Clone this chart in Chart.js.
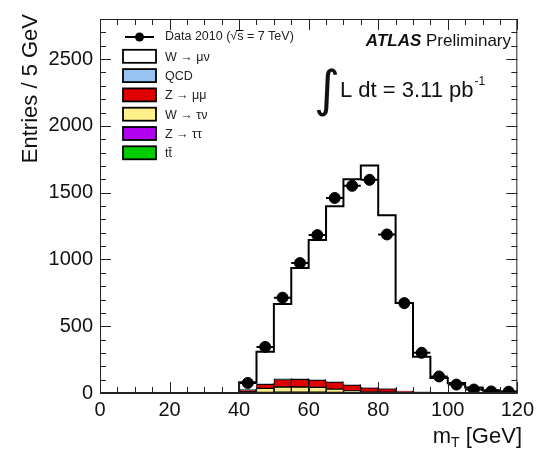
<!DOCTYPE html>
<html>
<head>
<meta charset="utf-8">
<script src="https://cdn.jsdelivr.net/npm/chart.js@4.4.1/dist/chart.umd.min.js"></script>
<style>
  body { margin: 0; background: #fff; }
  #wrap { width: 539px; height: 453px; position: relative; }
</style>
</head>
<body>
<div id="wrap"><canvas id="mtChart"></canvas></div>
<script>
// m_T distribution, W -> mu nu selection, 5 GeV bins (lower edges)
const binLow = [40, 45, 50, 55, 60, 65, 70, 75, 80, 85, 90, 95, 100, 105, 110, 115];
const binWidth = 5;
const dataCounts = [75, 345, 714, 973, 1182, 1460, 1551, 1596, 1187, 673, 301, 124, 63, 26, 12, 10];
const wMuNu   = [52, 237, 560, 828, 1044, 1314, 1537, 1662, 1297, 658, 264, 107, 73, 40, 20, 12];
const qcd     = [4, 6, 6, 5, 4, 4, 3, 2, 2, 1, 1, 1, 0, 0, 0, 0];
const zMuMu   = [15, 30, 55, 58, 55, 52, 45, 30, 25, 12, 5, 3, 2, 1, 1, 0];
const wTauNu  = [8, 30, 38, 38, 36, 24, 12, 6, 3, 1, 1, 0, 0, 0, 0, 0];
const zTauTau = [1, 3, 4, 4, 3, 2, 1, 1, 1, 0, 0, 0, 0, 0, 0, 0];
const ttbar   = [0, 2, 3, 3, 3, 3, 2, 2, 2, 1, 1, 1, 0, 0, 0, 0];
const xTicks = [0, 20, 40, 60, 80, 100, 120];
const yTicks = [0, 500, 1000, 1500, 2000, 2500];

const FONT = "'Liberation Sans', Arial, Helvetica, sans-serif";

// stacked from the bottom up (as in the ROOT THStack)
const stack = [
    { label: "tt\u0304", values: ttbar, color: "#00cc00" },
    { label: "Z \u2192 \u03c4\u03c4", values: zTauTau, color: "#b400f0" },
    { label: "W \u2192 \u03c4\u03bd", values: wTauNu, color: "#fff08c" },
    { label: "Z \u2192 \u03bc\u03bc", values: zMuMu, color: "#e00000" },
    { label: "QCD", values: qcd, color: "#96c3f0" },
    { label: "W \u2192 \u03bc\u03bd", values: wMuNu, color: "#ffffff" }
];

const totals = binLow.map((x, i) => stack.reduce((s, d) => s + d.values[i], 0));

// outline of the full MC stack, as a step line through the bin edges
const last = binLow.length - 1;
const outline = [{ x: binLow[0], y: 0 }];
binLow.forEach((x, i) => outline.push({ x: x, y: totals[i] }));
outline.push({ x: binLow[last] + binWidth, y: totals[last] });
outline.push({ x: binLow[last] + binWidth, y: 0 });

const datasets = [
    {
        type: "line",
        label: "Data 2010",
        stack: "data",
        data: binLow.map((x, i) => ({ x: x + binWidth / 2, y: dataCounts[i] })),
        showLine: false,
        pointRadius: 5.5,
        pointBackgroundColor: "#000",
        pointBorderColor: "#000",
        borderColor: "#000"
    },
    {
        type: "line",
        label: "MC total",
        stack: "mc",
        data: outline,
        stepped: "before",
        borderColor: "#000",
        borderWidth: 2,
        pointRadius: 0,
        fill: false
    }
];
stack.forEach((d) => {
    datasets.push({
        type: "bar",
        label: d.label,
        stack: "bkg",
        data: binLow.map((x, i) => ({ x: x + binWidth / 2, y: d.values[i] })),
        backgroundColor: d.color,
        borderColor: d.color === "#ffffff" ? "rgba(0,0,0,0)" : "#000",
        borderWidth: d.color === "#ffffff" ? 0 : 1,
        borderSkipped: false,
        barPercentage: 1,
        categoryPercentage: 1
    });
});

// x error bars (half bin width) and sqrt(N) y errors on the data points
const errorBars = {
    id: "errorBars",
    afterDatasetsDraw(chart) {
        const ctx = chart.ctx;
        const xs = chart.scales.x, ys = chart.scales.y;
        ctx.save();
        ctx.strokeStyle = "#000";
        ctx.lineWidth = 2;
        binLow.forEach((x, i) => {
            const n = dataCounts[i];
            const cx = xs.getPixelForValue(x + binWidth / 2);
            const cy = ys.getPixelForValue(n);
            ctx.beginPath();
            ctx.moveTo(xs.getPixelForValue(x), cy);
            ctx.lineTo(xs.getPixelForValue(x + binWidth), cy);
            ctx.moveTo(cx, ys.getPixelForValue(n + Math.sqrt(n)));
            ctx.lineTo(cx, ys.getPixelForValue(Math.max(0, n - Math.sqrt(n))));
            ctx.stroke();
        });
        ctx.restore();
    }
};

// ROOT-like frame with inward ticks on all four sides
const frame = {
    id: "frame",
    afterDraw(chart) {
        const { ctx, chartArea: a } = chart;
        const xs = chart.scales.x, ys = chart.scales.y;
        ctx.save();
        ctx.strokeStyle = "#222";
        ctx.lineWidth = 1;
        ctx.strokeRect(a.left + 0.5, a.top + 0.5, a.right - a.left - 1, a.bottom - a.top);
        ctx.beginPath();
        for (let v = 0; v <= 2800; v += 100) {
            const y = Math.round(ys.getPixelForValue(v)) + 0.5;
            const len = v % 500 === 0 ? 11 : 6;
            ctx.moveTo(a.left, y); ctx.lineTo(a.left + len, y);
            ctx.moveTo(a.right, y); ctx.lineTo(a.right - len, y);
        }
        for (let v = 0; v <= 120; v += 5) {
            const x = Math.round(xs.getPixelForValue(v)) + 0.5;
            const len = v % 20 === 0 ? 11 : 6;
            ctx.moveTo(x, a.bottom); ctx.lineTo(x, a.bottom - len);
            ctx.moveTo(x, a.top); ctx.lineTo(x, a.top + len);
        }
        ctx.stroke();
        // the bottom axis line itself is drawn a bit heavier in ROOT
        ctx.lineWidth = 2;
        ctx.beginPath();
        ctx.moveTo(a.left, a.bottom); ctx.lineTo(a.right, a.bottom);
        ctx.stroke();
        ctx.restore();
    }
};

// legend, labels and axis titles in the ROOT/ATLAS layout
const annotations = {
    id: "annotations",
    afterDraw(chart) {
        const ctx = chart.ctx;
        ctx.save();
        ctx.fillStyle = "#111";
        ctx.textBaseline = "alphabetic";

        // axis titles
        ctx.font = "22px " + FONT;
        ctx.save();
        ctx.translate(37, 14);
        ctx.rotate(-Math.PI / 2);
        ctx.textAlign = "right";
        ctx.fillText("Entries / 5 GeV", 0, 0);
        ctx.restore();

        ctx.textAlign = "left";
        const tail = " [GeV]";
        ctx.font = "22px " + FONT;
        const wTail = ctx.measureText(tail).width;
        const wM = ctx.measureText("m").width;
        ctx.font = "14px " + FONT;
        const wT = ctx.measureText("T").width;
        let x0 = 522 - wTail - wT - wM;
        ctx.font = "22px " + FONT;
        ctx.fillText("m", x0, 443);
        ctx.font = "14px " + FONT;
        ctx.fillText("T", x0 + wM, 447);
        ctx.font = "22px " + FONT;
        ctx.fillText(tail, x0 + wM + wT, 443);

        // ATLAS Preliminary
        ctx.font = "17px " + FONT;
        const wPre = ctx.measureText(" Preliminary").width;
        ctx.fillText(" Preliminary", 511 - wPre, 46);
        ctx.font = "italic bold 17px " + FONT;
        const wAt = ctx.measureText("ATLAS").width;
        ctx.fillText("ATLAS", 511 - wPre - wAt, 46);

        // luminosity
        ctx.font = "50px 'DejaVu Sans', " + FONT;
        ctx.fillText("\u222b", 314, 106);
        ctx.font = "22px " + FONT;
        ctx.fillText("L dt = 3.11 pb", 340, 97);
        const wLum = ctx.measureText("L dt = 3.11 pb").width;
        ctx.font = "12px " + FONT;
        ctx.fillText("-1", 340 + wLum + 1, 85);

        // legend
        const rowY = (i) => 37 + i * 19.3;
        ctx.font = "12.5px " + FONT;
        ctx.textBaseline = "middle";
        ctx.strokeStyle = "#000";
        ctx.lineWidth = 2;
        ctx.beginPath();
        ctx.moveTo(125, rowY(0)); ctx.lineTo(154, rowY(0));
        ctx.stroke();
        ctx.beginPath();
        ctx.arc(139.5, rowY(0), 4.5, 0, Math.PI * 2);
        ctx.fillStyle = "#000";
        ctx.fill();
        ctx.fillStyle = "#222";
        const p1 = "Data 2010 (\u221a";
        ctx.fillText(p1, 165, rowY(0));
        const w1 = ctx.measureText(p1).width;
        const ws = ctx.measureText("s").width;
        ctx.fillText("s = 7 TeV)", 165 + w1, rowY(0));
        ctx.lineWidth = 1;
        ctx.beginPath();
        ctx.moveTo(165 + w1 - 1, rowY(0) - 6.5);
        ctx.lineTo(165 + w1 + ws, rowY(0) - 6.5);
        ctx.stroke();

        const order = stack.slice().reverse();
        order.forEach((d, k) => {
            const y = rowY(k + 1);
            ctx.fillStyle = d.color;
            ctx.fillRect(123, y - 6.5, 33, 13);
            ctx.lineWidth = 1.8;
            ctx.strokeStyle = "#000";
            ctx.strokeRect(123, y - 6.5, 33, 13);
            ctx.fillStyle = "#222";
            ctx.fillText(d.label, 165, y + 1);
        });
        ctx.restore();
    }
};

new Chart(document.getElementById("mtChart"), {
    data: { datasets: datasets },
    options: {
        responsive: true,
        maintainAspectRatio: false,
        animation: false,
        events: [],
        layout: { padding: { top: 14, right: 21, left: 0, bottom: 0 } },
        plugins: {
            legend: { display: false },
            tooltip: { enabled: false }
        },
        scales: {
            x: {
                type: "linear",
                min: 0,
                max: 120,
                offset: false,
                stacked: true,
                grid: { display: false, drawTicks: false },
                border: { display: false },
                afterBuildTicks: (scale) => { scale.ticks = xTicks.map((v) => ({ value: v })); },
                afterFit: (scale) => { scale.height = 60; },
                ticks: {
                    padding: 5,
                    maxRotation: 0,
                    color: "#111",
                    font: { family: FONT, size: 20 },
                    callback: (v) => String(v)
                }
            },
            y: {
                type: "linear",
                min: 0,
                max: 2800,
                stacked: true,
                grid: { display: false, drawTicks: false },
                border: { display: false },
                afterBuildTicks: (scale) => { scale.ticks = yTicks.map((v) => ({ value: v })); },
                afterFit: (scale) => { scale.width = 100; },
                ticks: {
                    padding: 7,
                    color: "#111",
                    font: { family: FONT, size: 20 },
                    callback: (v) => String(v)
                }
            }
        }
    },
    plugins: [errorBars, frame, annotations]
});
</script>
</body>
</html>
